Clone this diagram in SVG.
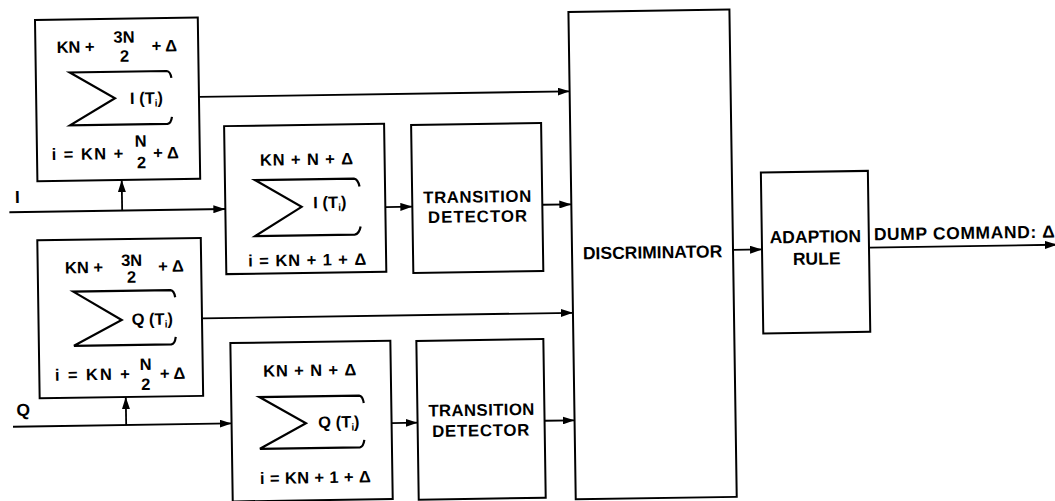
<svg xmlns="http://www.w3.org/2000/svg" width="1055" height="501" viewBox="0 0 1055 501">
<style>
.box{fill:#fff;stroke:#000;stroke-width:2}
.ln{fill:none;stroke:#000;stroke-width:1.8}
.sig{fill:none;stroke:#000;stroke-width:2.2;stroke-linejoin:miter}
text{font-family:"Liberation Sans",Arial,Helvetica,sans-serif;font-weight:bold;font-size:16.5px;fill:#000}
.lbl{font-size:17.5px}
.td{font-size:16.8px}
.mid{text-anchor:middle}
.sub{font-size:10px}
</style>
<defs>
<marker id="ah" markerWidth="12" markerHeight="8" refX="12" refY="4" orient="auto" markerUnits="userSpaceOnUse">
<path d="M0,0 L12,4 L0,8 z" fill="#000"/>
</marker>
</defs>
<rect width="1055" height="501" fill="#fff"/>
<g transform="rotate(-0.86 527 250)">
<g id="connectors">
<path class="ln" d="M201.3,92 L572,92" marker-end="url(#ah)"/>
<path class="ln" d="M10,204.5 L226,204.5" marker-end="url(#ah)"/>
<path class="ln" d="M122.8,204.5 L122.8,174" marker-end="url(#ah)"/>
<path class="ln" d="M386,205 L413,205" marker-end="url(#ah)"/>
<path class="ln" d="M543,205 L572,205" marker-end="url(#ah)"/>
<path class="ln" d="M201,313.5 L572,313.5" marker-end="url(#ah)"/>
<path class="ln" d="M10.4,419 L229,419" marker-end="url(#ah)"/>
<path class="ln" d="M123.6,419 L123.6,391" marker-end="url(#ah)"/>
<path class="ln" d="M389,421 L415,421" marker-end="url(#ah)"/>
<path class="ln" d="M542,421 L572,421" marker-end="url(#ah)"/>
<path class="ln" d="M733,253 L762,253" marker-end="url(#ah)"/>
<path class="ln" d="M869,252.7 L1057,252.7" marker-end="url(#ah)"/>
<text x="15.7" y="195.3" class="lbl">I</text>
<text x="14.2" y="408.4" class="lbl">Q</text>
<text x="874" y="245.5" class="lbl" textLength="181" lengthAdjust="spacing">DUMP COMMAND: Δ</text>
</g>
<g id="sumI1">
<rect class="box" x="38.5" y="12.6" width="162.8" height="161.3"/>
<text x="59.7" y="46">KN +</text>
<text x="127.3" y="36.7" class="mid">3N</text>
<text x="127.5" y="55.7" class="mid">2</text>
<text x="154.7" y="46">+ Δ</text>
<path class="sig" d="M174,72.5 Q173,66 169.5,65.6 L72.5,65.6 L117.3,92.1 L72,118.5 L169.5,118.5 Q173,118 174,111.5"/>
<text x="132.3" y="98">I (T<tspan class="sub" dy="3">i</tspan><tspan dy="-3">)</tspan></text>
<text x="53.1" y="153" textLength="71.6" lengthAdjust="spacing">i = KN +</text>
<text x="142.3" y="140.9" class="mid">N</text>
<text x="142.9" y="162.5" class="mid">2</text>
<text x="154.7" y="153">+ Δ</text>
</g>
<g id="sumI2">
<rect class="box" x="226" y="121.6" width="160" height="148"/>
<text x="261.3" y="161.7" textLength="93" lengthAdjust="spacing">KN + N + Δ</text>
<path class="sig" d="M360.5,184 Q359,176.5 355,176 L256,176 L302.3,203.5 L255.5,232 L355,232 Q359.5,231.5 361,224"/>
<text x="314" y="205">I (T<tspan class="sub" dy="3">i</tspan><tspan dy="-3">)</tspan></text>
<text x="248.1" y="262.4" textLength="118" lengthAdjust="spacing">i = KN + 1 + Δ</text>
</g>
<g id="td1">
<rect class="box" x="413" y="123.3" width="130" height="148"/>
<text x="478" y="201.8" class="td mid" textLength="108" lengthAdjust="spacing">TRANSITION</text>
<text x="478" y="221.5" class="td mid" textLength="99" lengthAdjust="spacing">DETECTOR</text>
</g>
<g id="sumQ1">
<rect class="box" x="37.5" y="233" width="163.5" height="158"/>
<text x="64.7" y="266.5">KN +</text>
<text x="131.5" y="260" class="mid">3N</text>
<text x="131.2" y="276.7" class="mid">2</text>
<text x="158" y="266.5">+ Δ</text>
<path class="sig" d="M174.5,292 Q173.5,285.2 170,284.8 L72.7,284.8 L120.7,313.9 L72.6,339 L170,339 Q173.5,338.6 174.5,331.5"/>
<text x="130.6" y="319.1">Q (T<tspan class="sub" dy="3">i</tspan><tspan dy="-3">)</tspan></text>
<text x="53" y="373.7" textLength="75" lengthAdjust="spacing">i = KN +</text>
<text x="144" y="364.2" class="mid">N</text>
<text x="143.8" y="384.2" class="mid">2</text>
<text x="158" y="373.7">+ Δ</text>
</g>
<g id="sumQ2">
<rect class="box" x="229" y="338.6" width="160" height="158.4"/>
<text x="261.4" y="372.7" textLength="93" lengthAdjust="spacing">KN + N + Δ</text>
<path class="sig" d="M361.5,400.5 Q360.5,393.4 357,393 L257.1,393 L303.4,420 L257,444.8 L357,444.8 Q360.5,444.4 361.5,437.5"/>
<text x="315.7" y="424.8">Q (T<tspan class="sub" dy="3">i</tspan><tspan dy="-3">)</tspan></text>
<text x="256.5" y="480" textLength="111" lengthAdjust="spacing">i = KN + 1 + Δ</text>
</g>
<g id="td2">
<rect class="box" x="415" y="339.3" width="127" height="158.7"/>
<text x="479" y="415" class="td mid" textLength="106" lengthAdjust="spacing">TRANSITION</text>
<text x="478" y="435.5" class="td mid" textLength="97" lengthAdjust="spacing">DETECTOR</text>
</g>
<g id="discriminator">
<rect class="box" x="572" y="12.6" width="161" height="487.4"/>
<text x="652.5" y="260.2" class="lbl mid">DISCRIMINATOR</text>
</g>
<g id="adaption">
<rect class="box" x="762" y="176" width="107" height="161"/>
<text x="815.5" y="247" class="lbl mid">ADAPTION</text>
<text x="816.5" y="269" class="lbl mid">RULE</text>
</g>
</g>
</svg>
